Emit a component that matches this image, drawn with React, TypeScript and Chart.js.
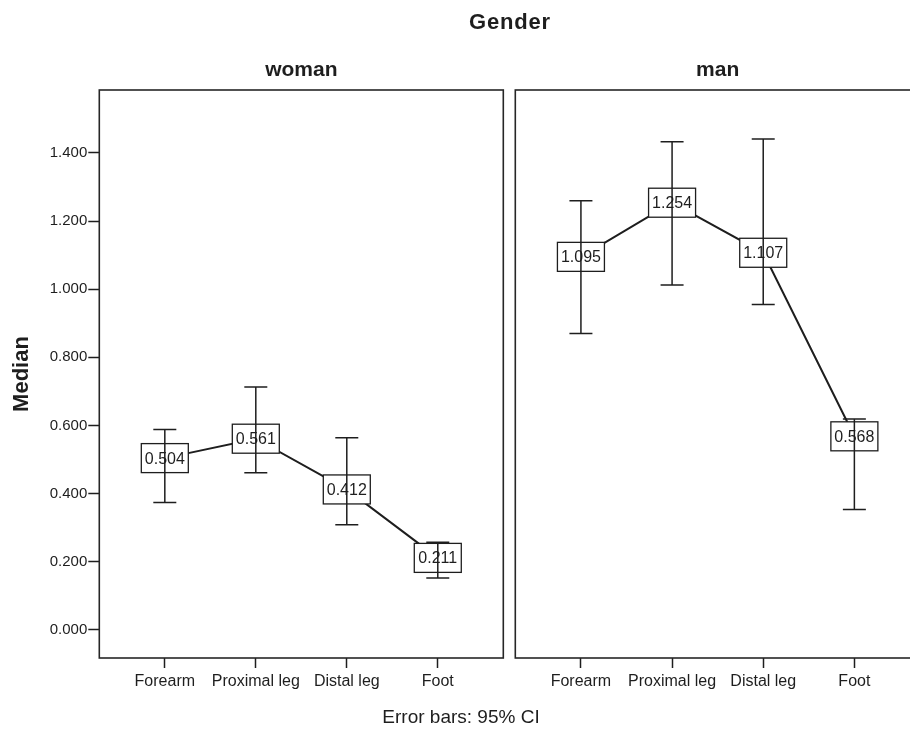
import React, { useEffect, useRef } from 'react';
import { Chart, registerables } from 'chart.js';

Chart.register(...registerables);

const CATEGORIES = ['Forearm', 'Proximal leg', 'Distal leg', 'Foot'];
const PANEL_TITLES = ['woman', 'man'];

const WOMAN_MEDIAN = [0.504, 0.561, 0.412, 0.211];
const WOMAN_LOWER = [0.374, 0.461, 0.308, 0.152];
const WOMAN_UPPER = [0.588, 0.713, 0.564, 0.257];

const MAN_MEDIAN = [1.095, 1.254, 1.107, 0.568];
const MAN_LOWER = [0.87, 1.012, 0.955, 0.353];
const MAN_UPPER = [1.26, 1.433, 1.441, 0.619];

const Y_TICKS = [0, 0.2, 0.4, 0.6, 0.8, 1.0, 1.2, 1.4];
const Y_MIN = -0.083;
const Y_MAX = 1.585;
const X_MIN = -0.72;
const X_MAX = 3.72;

const FONT = '"Liberation Sans", Arial, Helvetica, sans-serif';
const INK = '#1e1e1e';

const panelPlugin = {
  id: 'panelDeco',
  afterDatasetsDraw(chart: any, _args: any, opts: any) {
    const { ctx, chartArea: a, scales } = chart;
    const x = scales.x;
    const y = scales.y;
    const meta = chart.getDatasetMeta(0);
    const bw = 47;
    const bh = 29;
    ctx.save();
    // white box backgrounds
    meta.data.forEach((pt: any) => {
      ctx.fillStyle = '#ffffff';
      ctx.fillRect(pt.x - bw / 2, pt.y - bh / 2, bw, bh);
    });
    // error bars
    ctx.strokeStyle = INK;
    ctx.lineWidth = 1.5;
    (opts.lower as number[]).forEach((lo: number, i: number) => {
      const px = x.getPixelForValue(i);
      const yl = y.getPixelForValue(lo);
      const yu = y.getPixelForValue(opts.upper[i]);
      const cw = 11.5;
      ctx.beginPath();
      ctx.moveTo(px, yl);
      ctx.lineTo(px, yu);
      ctx.moveTo(px - cw, yl);
      ctx.lineTo(px + cw, yl);
      ctx.moveTo(px - cw, yu);
      ctx.lineTo(px + cw, yu);
      ctx.stroke();
    });
    // box outlines and value labels
    meta.data.forEach((pt: any, i: number) => {
      ctx.strokeStyle = INK;
      ctx.lineWidth = 1.3;
      ctx.strokeRect(pt.x - bw / 2, pt.y - bh / 2, bw, bh);
      ctx.fillStyle = INK;
      ctx.font = `16px ${FONT}`;
      ctx.textAlign = 'center';
      ctx.textBaseline = 'middle';
      const v = chart.data.datasets[0].data[i].y as number;
      ctx.fillText(v.toFixed(3), pt.x, pt.y + 1);
    });
    // panel frame
    ctx.strokeStyle = '#262626';
    ctx.lineWidth = 1.6;
    ctx.strokeRect(a.left, a.top, a.right - a.left, a.bottom - a.top);
    // panel title
    ctx.fillStyle = INK;
    ctx.font = `bold 21px ${FONT}`;
    ctx.textAlign = 'center';
    ctx.textBaseline = 'middle';
    ctx.fillText(opts.title, (a.left + a.right) / 2, a.top - 20);
    ctx.restore();
  },
};

function makeConfig(
  title: string,
  median: number[],
  lower: number[],
  upper: number[],
  showY: boolean,
  padding: any
): any {
  return {
    type: 'line',
    data: {
      datasets: [
        {
          data: median.map((v, i) => ({ x: i, y: v })),
          borderColor: INK,
          borderWidth: 2,
          pointRadius: 0,
          tension: 0,
          fill: false,
        },
      ],
    },
    plugins: [panelPlugin],
    options: {
      responsive: false,
      animation: false,
      devicePixelRatio: 1,
      layout: { padding },
      plugins: {
        legend: { display: false },
        tooltip: { enabled: false },
        title: { display: false },
        panelDeco: { title, lower, upper },
      },
      scales: {
        x: {
          type: 'linear',
          min: X_MIN,
          max: X_MAX,
          afterBuildTicks: (s: any) => {
            s.ticks = CATEGORIES.map((_, i) => ({ value: i }));
          },
          afterFit: (s: any) => {
            s.height = 40;
          },
          grid: {
            drawOnChartArea: false,
            drawTicks: true,
            tickLength: 10,
            tickColor: INK,
            tickWidth: 1.5,
          },
          border: { display: false },
          ticks: {
            autoSkip: false,
            maxRotation: 0,
            padding: 4,
            color: INK,
            font: { size: 16, family: FONT },
            callback: (v: any) => CATEGORIES[Math.round(Number(v))] ?? '',
          },
        },
        y: {
          type: 'linear',
          display: showY,
          min: Y_MIN,
          max: Y_MAX,
          afterBuildTicks: (s: any) => {
            s.ticks = Y_TICKS.map((v) => ({ value: v }));
          },
          afterFit: (s: any) => {
            s.width = showY ? 99.3 : 0;
          },
          grid: {
            drawOnChartArea: false,
            drawTicks: true,
            tickLength: 11,
            tickColor: INK,
            tickWidth: 1.5,
          },
          border: { display: false },
          ticks: {
            padding: 1,
            color: INK,
            font: { size: 15, family: FONT },
            callback: (v: any) => Number(v).toFixed(3),
          },
          title: {
            display: showY,
            text: 'Median',
            color: INK,
            font: { size: 22, weight: 'bold', family: FONT },
            padding: { top: 9, bottom: 0 },
          },
        },
      },
    },
  };
}

export default function App() {
  const refA = useRef<HTMLCanvasElement | null>(null);
  const refB = useRef<HTMLCanvasElement | null>(null);

  useEffect(() => {
    if (!refA.current || !refB.current) return;
    const a = new Chart(
      refA.current,
      makeConfig(PANEL_TITLES[0], WOMAN_MEDIAN, WOMAN_LOWER, WOMAN_UPPER, true, {
        left: 0,
        top: 90,
        right: 6.7,
        bottom: 31,
      })
    );
    const b = new Chart(
      refB.current,
      makeConfig(PANEL_TITLES[1], MAN_MEDIAN, MAN_LOWER, MAN_UPPER, false, {
        left: 12.3,
        top: 90,
        right: 0,
        bottom: 31,
      })
    );
    return () => {
      a.destroy();
      b.destroy();
    };
  }, []);

  return (
    <div
      style={{
        position: 'absolute',
        left: 0,
        top: 0,
        width: 910,
        height: 729,
        overflow: 'hidden',
        background: '#ffffff',
        fontFamily: FONT,
        color: INK,
      }}
    >
      <canvas
        ref={refA}
        width={510}
        height={729}
        style={{ position: 'absolute', left: 0, top: 0, width: 510, height: 729 }}
      />
      <canvas
        ref={refB}
        width={417}
        height={729}
        style={{ position: 'absolute', left: 503, top: 0, width: 417, height: 729 }}
      />
      <div
        style={{
          position: 'absolute',
          left: 510,
          top: 22,
          transform: 'translate(-50%, -50%)',
          fontWeight: 'bold',
          fontSize: 22,
          letterSpacing: 0.8,
          whiteSpace: 'nowrap',
        }}
      >
        Gender
      </div>
      <div
        style={{
          position: 'absolute',
          left: 461,
          top: 717,
          transform: 'translate(-50%, -50%)',
          fontSize: 19,
          whiteSpace: 'nowrap',
        }}
      >
        Error bars: 95% CI
      </div>
    </div>
  );
}
